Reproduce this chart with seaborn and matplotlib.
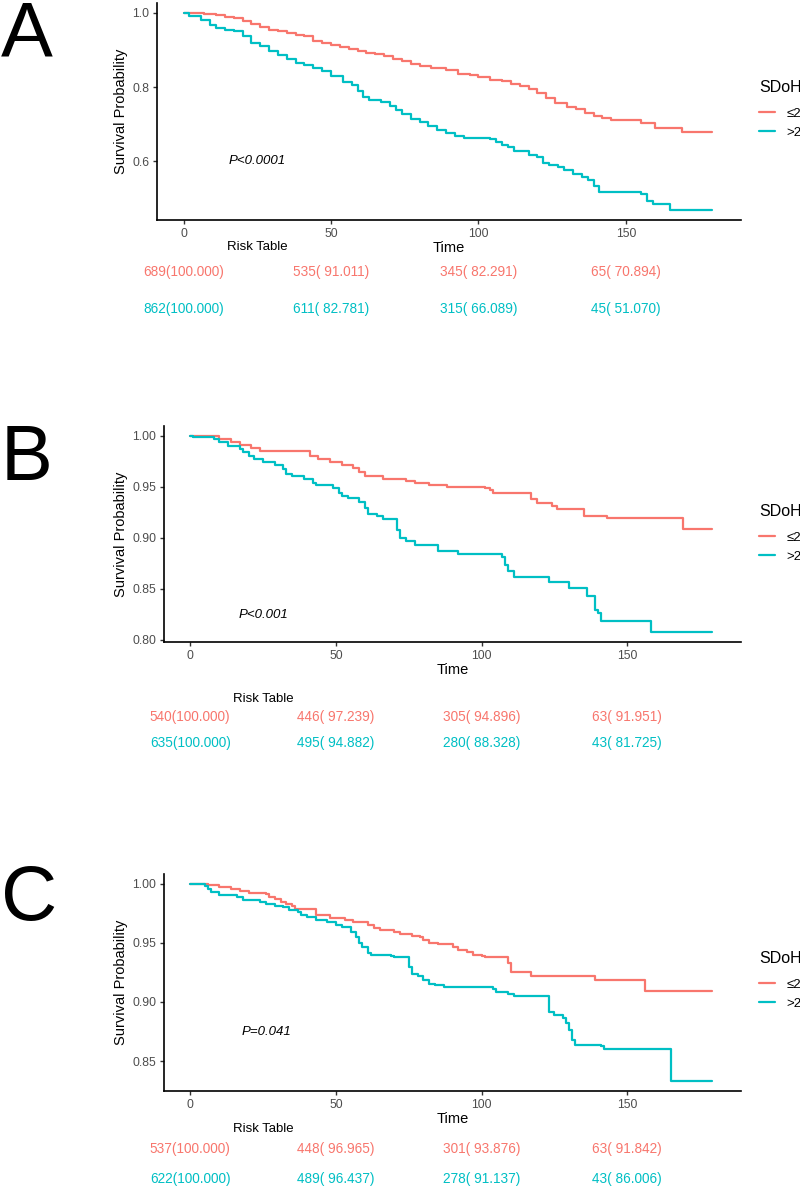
import numpy as np
import pandas as pd
import seaborn as sns
import matplotlib
matplotlib.use("Agg")
import matplotlib.pyplot as plt
from matplotlib import transforms

sns.set_style("ticks")
plt.rcParams['font.family'] = ['Liberation Sans', 'DejaVu Sans']
plt.rcParams['text.color'] = 'black'
plt.rcParams['axes.labelcolor'] = 'black'

red = "#F8766D"
cyan = "#00BFC4"
groups = ["≤2", ">2"]

## Panel A curves
a_low_time = [0, 7, 11, 14, 17, 20, 23, 26, 29, 32, 35, 38, 41, 44, 47, 50, 53, 56, 59, 62,
              65, 68, 71, 74, 77, 80, 84, 89, 93, 97, 100, 104, 108, 111, 114, 117, 120, 123,
              126, 130, 133, 136, 139, 142, 145, 155, 160, 169, 179]
a_low_surv = [1.000, 0.997, 0.993, 0.989, 0.985, 0.978, 0.970, 0.963, 0.955, 0.950, 0.945,
              0.940, 0.937, 0.925, 0.918, 0.912, 0.908, 0.903, 0.897, 0.892, 0.888, 0.883,
              0.876, 0.869, 0.862, 0.856, 0.850, 0.845, 0.836, 0.833, 0.826, 0.820, 0.815,
              0.808, 0.802, 0.794, 0.784, 0.770, 0.758, 0.745, 0.740, 0.730, 0.723, 0.717,
              0.710, 0.703, 0.689, 0.680, 0.680]
a_high_time = [0, 2, 6, 9, 11, 14, 17, 20, 23, 26, 29, 32, 35, 38, 41, 44, 47, 50, 54, 57, 59,
               61, 63, 67, 70, 72, 74, 77, 80, 83, 86, 89, 92, 95, 104, 106, 108, 110, 112,
               117, 120, 122, 124, 127, 129, 132, 135, 137, 139, 141, 155, 157, 159, 165, 179]
a_high_surv = [1.000, 0.991, 0.980, 0.968, 0.959, 0.953, 0.950, 0.937, 0.919, 0.910, 0.896,
               0.886, 0.875, 0.865, 0.860, 0.852, 0.842, 0.829, 0.813, 0.805, 0.788, 0.772,
               0.766, 0.760, 0.750, 0.738, 0.728, 0.715, 0.705, 0.695, 0.684, 0.675, 0.667,
               0.663, 0.660, 0.652, 0.645, 0.637, 0.627, 0.618, 0.610, 0.596, 0.589, 0.583,
               0.575, 0.566, 0.557, 0.549, 0.532, 0.516, 0.511, 0.493, 0.485, 0.468, 0.468]

## Panel B curves
b_low_time = [0, 10, 14, 17, 21, 24, 41, 44, 48, 52, 56, 58, 60, 66, 74, 77, 82, 88, 101,
              103, 104, 117, 119, 124, 126, 135, 143, 169, 179]
b_low_surv = [1.000, 0.9967, 0.994, 0.991, 0.988, 0.9853, 0.980, 0.977, 0.974, 0.9716,
              0.968, 0.965, 0.961, 0.9575, 0.956, 0.9536, 0.952, 0.950, 0.949, 0.947, 0.944,
              0.938, 0.934, 0.931, 0.928, 0.921, 0.919, 0.909, 0.909]
b_high_time = [0, 1, 8, 10, 13, 17, 18, 20, 22, 25, 29, 32, 33, 35, 39, 42, 43, 49, 51, 52,
               54, 58, 60, 61, 64, 66, 71, 72, 74, 77, 85, 92, 107, 108, 109, 111, 123, 130,
               136, 139, 140, 141, 158, 179]
b_high_surv = [1.000, 0.999, 0.997, 0.9935, 0.990, 0.987, 0.984, 0.980, 0.977, 0.974, 0.971,
               0.967, 0.963, 0.961, 0.958, 0.954, 0.952, 0.949, 0.944, 0.941, 0.939, 0.935,
               0.929, 0.9235, 0.9216, 0.918, 0.908, 0.900, 0.8964, 0.893, 0.8866, 0.884,
               0.881, 0.8735, 0.867, 0.862, 0.8565, 0.851, 0.843, 0.8295, 0.8265, 0.818,
               0.8075, 0.8075]

## Panel C curves
c_low_time = [0, 6, 10, 14, 17, 20, 26, 27, 29, 31, 33, 35, 36, 43, 48, 53, 56, 61, 63, 65,
              70, 72, 76, 79, 80, 82, 85, 90, 92, 95, 97, 100, 101, 109, 110, 117, 139, 156,
              179]
c_low_surv = [1.000, 0.999, 0.997, 0.9955, 0.994, 0.9926, 0.9915, 0.989, 0.987, 0.985,
              0.983, 0.981, 0.979, 0.9737, 0.971, 0.9694, 0.968, 0.965, 0.9624, 0.961,
              0.9595, 0.9575, 0.9558, 0.9547, 0.9524, 0.950, 0.949, 0.9468, 0.944, 0.9425,
              0.940, 0.9389, 0.9377, 0.9326, 0.9256, 0.922, 0.9185, 0.9089, 0.9089]
c_high_time = [0, 5, 6, 7, 10, 16, 18, 24, 26, 29, 32, 34, 37, 38, 40, 43, 47, 50, 52, 55,
               57, 58, 59, 61, 62, 69, 70, 75, 76, 78, 80, 82, 84, 87, 96, 104, 105, 109,
               111, 123, 125, 128, 129, 130, 131, 132, 141, 142, 165, 179]
c_high_surv = [1.000, 0.998, 0.9955, 0.9935, 0.9907, 0.9887, 0.9864, 0.985, 0.983, 0.981,
               0.980, 0.978, 0.9765, 0.9737, 0.9717, 0.9694, 0.968, 0.965, 0.9638, 0.9595,
               0.9553, 0.9496, 0.9468, 0.9411, 0.9397, 0.9389, 0.9377, 0.9298, 0.9241,
               0.922, 0.9185, 0.9151, 0.914, 0.9128, 0.9123, 0.9114, 0.9086, 0.9071, 0.9049,
               0.8916, 0.8888, 0.8868, 0.8823, 0.876, 0.8681, 0.8633, 0.8625, 0.8602, 0.833,
               0.833]

## Risk tables
risk_time = [0, 50, 100, 150]
a_low_n = [689, 535, 345, 65]
a_low_pct = [100.000, 91.011, 82.291, 70.894]
a_high_n = [862, 611, 315, 45]
a_high_pct = [100.000, 82.781, 66.089, 51.070]
b_low_n = [540, 446, 305, 63]
b_low_pct = [100.000, 97.239, 94.896, 91.951]
b_high_n = [635, 495, 280, 43]
b_high_pct = [100.000, 94.882, 88.328, 81.725]
c_low_n = [537, 448, 301, 63]
c_low_pct = [100.000, 96.965, 93.876, 91.842]
c_high_n = [622, 489, 278, 43]
c_high_pct = [100.000, 96.437, 91.137, 86.006]

pvals = ["P<0.0001", "P<0.001", "P=0.041"]
yticks_a = [0.6, 0.8, 1.0]
yticks_b = [0.80, 0.85, 0.90, 0.95, 1.00]
yticks_c = [0.85, 0.90, 0.95, 1.00]

W, H = 800, 1187
fig = plt.figure(figsize=(W / 100, H / 100), dpi=100)


def fy(px):
    return 1 - px / H


def panel(letter, letter_base, left, top, bottom, low_t, low_s, high_t, high_s,
          yticks, yfmt, pval, pxy, low_n, low_p, high_n, high_p,
          risk_title_y, row_y, legend_top):
    ax = fig.add_axes([left / W, fy(bottom), (741 - left) / W, (bottom - top) / H])
    df = pd.DataFrame({
        "Time": low_t + high_t,
        "surv": low_s + high_s,
        "SDoH": [groups[0]] * len(low_t) + [groups[1]] * len(high_t),
    })
    sns.lineplot(data=df, x="Time", y="surv", hue="SDoH", hue_order=groups,
                 palette={groups[0]: red, groups[1]: cyan}, estimator=None,
                 drawstyle="steps-post", linewidth=1.6, ax=ax)
    lo = min(df.surv)
    pad = 0.05 * (1 - lo)
    ax.set_ylim(lo - pad, 1 + pad)
    ax.set_xlim(-9, 189)
    ax.set_xticks(risk_time)
    ax.set_yticks(yticks)
    ax.set_yticklabels([yfmt % v for v in yticks])
    sns.despine(ax=ax)
    for s in ["left", "bottom"]:
        ax.spines[s].set_linewidth(1.2)
        ax.spines[s].set_color("black")
    ax.tick_params(length=3, width=1, color="#333333", pad=2.5,
                   labelsize=8.8, labelcolor="#4D4D4D")
    ax.set_xlabel("Time", fontsize=10.5, labelpad=1)
    ax.set_ylabel("Survival Probability", fontsize=10.5, labelpad=3)

    ax.text(pxy[0], pxy[1], pval, style="italic", fontsize=9.5, ha="center", va="center")

    sns.move_legend(ax, "upper left", bbox_to_anchor=(759 / W, fy(legend_top)),
                    bbox_transform=fig.transFigure, frameon=False, title="SDoH",
                    fontsize=9.5, title_fontsize=11.5, handlelength=1.25,
                    handletextpad=0.85, labelspacing=0.5, borderpad=0, borderaxespad=0)
    leg = ax.get_legend()
    leg._legend_box.align = "left"
    leg._legend_box.sep = 9
    for line in leg.get_lines():
        line.set_linewidth(1.6)

    tr = transforms.blended_transform_factory(ax.transData, fig.transFigure)
    ax.text(25, fy(risk_title_y), "Risk Table", fontsize=9.5, ha="center", va="center",
            transform=tr)
    for t, n, p in zip(risk_time, low_n, low_p):
        ax.text(t, fy(row_y[0]), "%d(%7.3f)" % (n, p), color=red, fontsize=9.8,
                ha="center", va="center", transform=tr)
    for t, n, p in zip(risk_time, high_n, high_p):
        ax.text(t, fy(row_y[1]), "%d(%7.3f)" % (n, p), color=cyan, fontsize=9.8,
                ha="center", va="center", transform=tr)

    fig.text(1 / W, fy(letter_base), letter, fontsize=56, ha="left", va="baseline")


panel("A", 57, 157, 3, 220, a_low_time, a_low_surv, a_high_time, a_high_surv,
      yticks_a, "%.1f", pvals[0], (25, 0.60), a_low_n, a_low_pct, a_high_n, a_high_pct,
      247, (272, 309), 80)
panel("B", 480, 164, 426, 642, b_low_time, b_low_surv, b_high_time, b_high_surv,
      yticks_b, "%.2f", pvals[1], (25, 0.8245), b_low_n, b_low_pct, b_high_n, b_high_pct,
      699, (717, 743), 504)
panel("C", 920, 164, 874, 1091, c_low_time, c_low_surv, c_high_time, c_high_surv,
      yticks_c, "%.2f", pvals[2], (26, 0.875), c_low_n, c_low_pct, c_high_n, c_high_pct,
      1129, (1149, 1179), 951)

fig.savefig("out.png", dpi=100)
